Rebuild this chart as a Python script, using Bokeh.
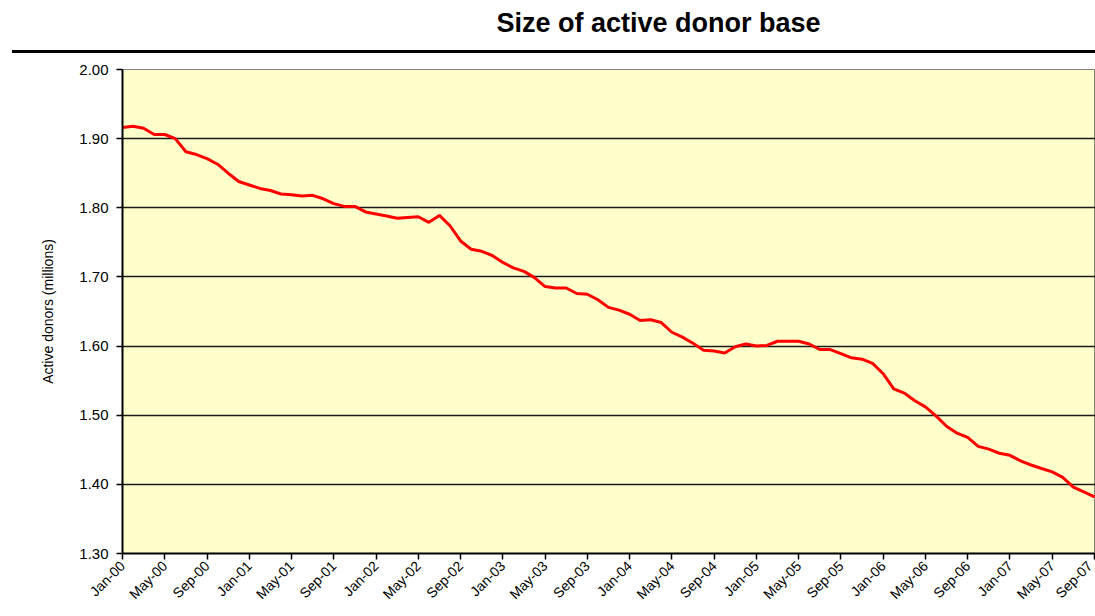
import math
from bokeh.plotting import figure
from bokeh.layouts import column
from bokeh.models import (Range1d, FixedTicker, NumeralTickFormatter,
                          ColumnDataSource, Div)
from bokeh.core.properties import value
from bokeh.embed import file_html
from bokeh.resources import INLINE

# ---- data ----
tick_labels = ["Jan-00", "May-00", "Sep-00", "Jan-01", "May-01", "Sep-01",
               "Jan-02", "May-02", "Sep-02", "Jan-03", "May-03", "Sep-03",
               "Jan-04", "May-04", "Sep-04", "Jan-05", "May-05", "Sep-05",
               "Jan-06", "May-06", "Sep-06", "Jan-07", "May-07", "Sep-07"]

# monthly active donors (millions), Jan-00 .. Sep-07
donors = [1.916, 1.918, 1.915, 1.906, 1.906, 1.900, 1.881, 1.877, 1.871, 1.863,
          1.850, 1.838, 1.833, 1.828, 1.825, 1.820, 1.819, 1.817, 1.818, 1.813,
          1.806, 1.802, 1.802, 1.794, 1.791, 1.788, 1.785, 1.786, 1.787, 1.779,
          1.789, 1.774, 1.752, 1.740, 1.737, 1.731, 1.721, 1.713, 1.708, 1.699,
          1.686, 1.684, 1.684, 1.676, 1.675, 1.667, 1.656, 1.652, 1.646, 1.637,
          1.638, 1.634, 1.620, 1.613, 1.604, 1.594, 1.593, 1.590, 1.599, 1.603,
          1.600, 1.601, 1.607, 1.607, 1.607, 1.603, 1.595, 1.595, 1.589, 1.583,
          1.581, 1.575, 1.560, 1.538, 1.532, 1.521, 1.512, 1.499, 1.484, 1.474,
          1.468, 1.455, 1.451, 1.445, 1.442, 1.434, 1.428, 1.423, 1.418, 1.410,
          1.396, 1.389, 1.382]

y_ticks = [1.30, 1.40, 1.50, 1.60, 1.70, 1.80, 1.90, 2.00]

title_text = "Size of active donor base"
y_label = "Active donors (millions)"

FONT = "Liberation Sans"
W = 1095
LEFT = 122

# ---- header: title ----
HEAD_H = 50
head = figure(width=W, height=HEAD_H, output_backend="svg", toolbar_location=None,
              x_range=Range1d(LEFT, W), y_range=Range1d(HEAD_H, 0),
              min_border_left=LEFT, min_border_right=0, min_border_top=0,
              min_border_bottom=0, x_axis_type=None, y_axis_type=None)
head.outline_line_color = None
head.grid.visible = False
head.background_fill_color = "white"
head.border_fill_color = "white"
head.text(x=[658], y=[22], text=[title_text], text_font=value(FONT),
          text_font_size="27px", text_font_style="bold", text_align="center",
          text_baseline="middle", text_color="black")

# ---- header: rule ----
RULE_H = 3
rule = Div(text="", width=W - 12, height=RULE_H, margin=(0, 0, 0, 12),
           styles={"background-color": "black"})

# ---- main chart ----
months = list(range(len(donors)))
src = ColumnDataSource(dict(month=months, donors=donors))
label_step = 4
x_ticks = [label_step * i for i in range(len(tick_labels))]

MAIN_H = 616 - HEAD_H - RULE_H
p = figure(width=W, height=MAIN_H, output_backend="svg", toolbar_location=None,
           x_range=Range1d(0, 92.1), y_range=Range1d(y_ticks[0], y_ticks[-1]),
           min_border_left=LEFT, min_border_right=0,
           min_border_top=69 - HEAD_H - RULE_H, min_border_bottom=63)

p.background_fill_color = "#FFFFCC"
p.border_fill_color = "white"
p.outline_line_color = "#808080"
p.outline_line_width = 1

p.line("month", "donors", source=src, line_color="#FF0000", line_width=3)

# grid
p.xgrid.visible = False
p.ygrid.ticker = FixedTicker(ticks=y_ticks)
p.ygrid.grid_line_color = "#1a1a1a"
p.ygrid.grid_line_width = 1.5

# y axis
ya = p.yaxis[0]
ya.ticker = FixedTicker(ticks=y_ticks)
ya.formatter = NumeralTickFormatter(format="0.00")
ya.major_label_text_font = FONT
ya.major_label_text_font_size = "15px"
ya.major_label_text_color = "black"
ya.axis_line_color = "black"
ya.axis_line_width = 2
ya.major_tick_line_color = "black"
ya.major_tick_line_width = 1.5
ya.major_tick_out = 6
ya.major_tick_in = 0
ya.minor_tick_line_color = None
ya.major_label_standoff = 8
ya.axis_label = y_label
ya.axis_label_text_font = FONT
ya.axis_label_text_font_size = "14px"
ya.axis_label_text_font_style = "normal"
ya.axis_label_text_color = "black"
ya.axis_label_standoff = 20

# x axis
xa = p.xaxis[0]
xa.ticker = FixedTicker(ticks=x_ticks)
xa.major_label_overrides = {t: lab for t, lab in zip(x_ticks, tick_labels)}
xa.major_label_orientation = math.pi / 4
xa.major_label_text_font = FONT
xa.major_label_text_font_size = "14px"
xa.major_label_text_color = "black"
xa.axis_line_color = "black"
xa.axis_line_width = 2
xa.major_tick_line_color = "black"
xa.major_tick_line_width = 1.5
xa.major_tick_out = 6
xa.major_tick_in = 0
xa.minor_tick_line_color = None
xa.major_label_standoff = 4

layout = column(head, rule, p, spacing=0)
open("out.html", "w").write(file_html(layout, INLINE))
